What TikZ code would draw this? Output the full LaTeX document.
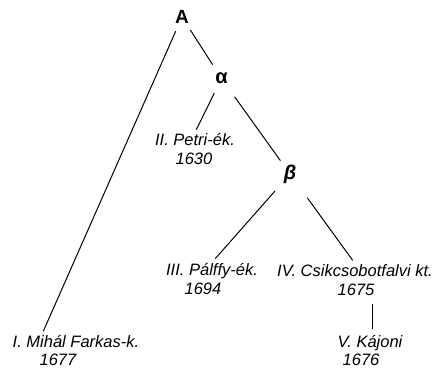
\documentclass[tikz,border=0pt]{standalone}
\usepackage{fontspec}
\setmainfont{Liberation Sans}
\tikzset{
  branch/.style={anchor=base, inner sep=0pt, font=\fontsize{16.5}{20}\selectfont\itshape},
  year/.style={anchor=base, inner sep=0pt, font=\fontsize{16.5}{20}\selectfont\itshape},
  knot/.style={circle, inner sep=0pt, minimum size=32pt, font=\fontsize{20}{22}\selectfont\bfseries},
}
\begin{document}
\begin{tikzpicture}[x=1pt, y=-1pt, line width=1pt]
    \useasboundingbox (0, 0) rectangle (438, 368) ;
    % knots of the stemma
    \node[knot, minimum size=30pt] (A) at (182, 17) {\fontsize{19}{22}\selectfont A} ;
    \node[knot] (alpha) at (221.5, 78.5) {α} ;
    \node[knot] (beta) at (290, 174) {\itshape β} ;
    % manuscripts
    \node[branch] (I) at (76, 347) {I. Mihál Farkas-k.} ;
    \node[year] (I-year) at (58, 365) {1677} ;
    \node[branch] (II) at (195, 145) {II. Petri-ék.} ;
    \node[year] (II-year) at (194, 164) {1630} ;
    \node[branch] (III) at (212, 275) {III. Pálffy-ék.} ;
    \node[year] (III-year) at (203, 294) {1694} ;
    \node[branch] (IV) at (355, 276) {IV. Csikcsobotfalvi kt.} ;
    \node[year] (IV-year) at (356, 295) {1675} ;
    \node[branch] (V) at (370, 347) {V. Kájoni} ;
    \node[year] (V-year) at (361, 365) {1676} ;
    % lines
    \draw (A) -- ([xshift=31pt, yshift=3pt]I.north west) ;
    \draw (A) -- (alpha) ;
    \draw[shorten >=3pt] (alpha) -- (II.north) ;
    \draw[shorten <=6pt] (alpha) -- (beta) ;
    \draw[shorten <=6pt, shorten >=5pt] (beta) -- (III.north) ;
    \draw[shorten <=13pt, shorten >=4pt] (beta) -- (IV.north) ;
    \draw[shorten <=8pt, shorten >=5pt] ([xshift=16pt]IV-year.south) -- ([xshift=2pt]V.north) ;
  \end{tikzpicture}
\end{document}
